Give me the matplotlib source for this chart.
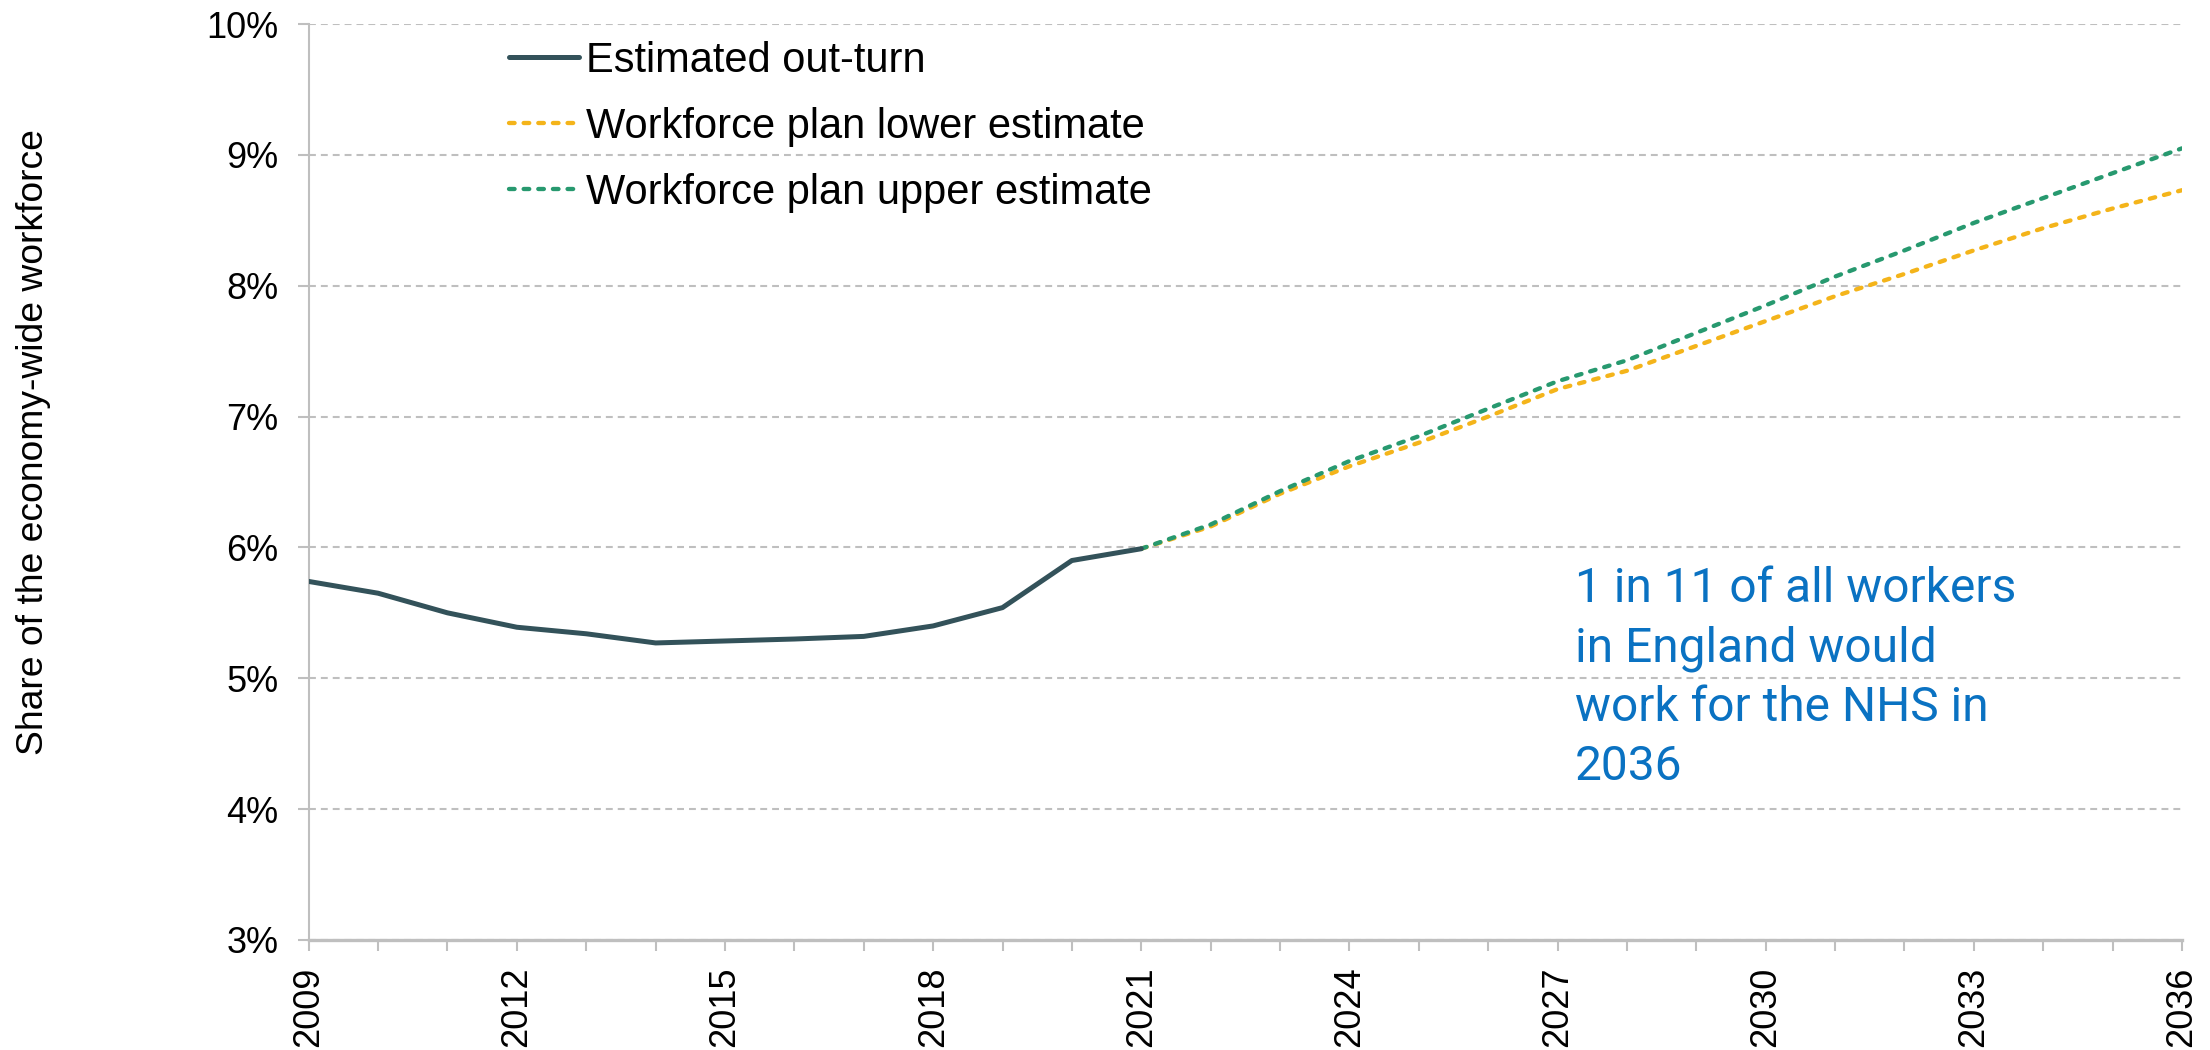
import matplotlib.pyplot as plt
import numpy as np

plt.rcParams.update({'font.family': ['Liberation Sans', 'DejaVu Sans']})

# NHS share of the economy-wide workforce (%)
years_out = np.arange(2009, 2022)
outturn = [5.74, 5.65, 5.50, 5.39, 5.34, 5.27, 5.285, 5.30, 5.32, 5.40, 5.54, 5.90, 5.99]

years_plan = np.arange(2021, 2037)
plan_lower = [5.99, 6.16, 6.41, 6.62, 6.80, 7.00, 7.21, 7.35, 7.54, 7.73, 7.92, 8.09, 8.27, 8.44, 8.59, 8.73]
plan_upper = [5.99, 6.175, 6.43, 6.66, 6.85, 7.06, 7.27, 7.43, 7.64, 7.85, 8.07, 8.27, 8.48, 8.67, 8.86, 9.05]

grey = '#BFBFBF'
fig = plt.figure(figsize=(22.1, 10.5), dpi=100)
ax = fig.add_axes([0.1397, 0.1048, 0.8476, 0.8723])

dash = (0, (1.3, 2.1))
ax.plot(years_plan, plan_lower, color='#F4B41A', lw=3.1, linestyle=dash,
        dash_capstyle='round', label='Workforce plan lower estimate', zorder=3)
ax.plot(years_plan, plan_upper, color='#27996F', lw=3.1, linestyle=dash,
        dash_capstyle='round', label='Workforce plan upper estimate', zorder=4)
ax.plot(years_out, outturn, color='#33525A', lw=3.6, label='Estimated out-turn',
        solid_capstyle='round', zorder=5)

ax.set_xlim(2009, 2036)
ax.set_ylim(3, 10)
ax.set_yticks(range(3, 11))
ax.set_yticklabels([f'{v}%' for v in range(3, 11)])
ax.set_xticks(range(2009, 2037, 3))
ax.set_xticks(range(2009, 2037), minor=True)
ax.tick_params(axis='x', which='both', direction='out', length=8, width=1.5,
               color=grey, labelsize=26, labelrotation=90, pad=11)
ax.tick_params(axis='y', direction='out', length=8, width=1.5, color=grey,
               labelsize=26, pad=14)

ax.grid(axis='y', color=grey, lw=1.5, linestyle=(0, (3.3, 2.4)))
ax.set_axisbelow(True)
for side in ['top', 'right']:
    ax.spines[side].set_visible(False)
ax.spines['left'].set_color(grey)
ax.spines['left'].set_linewidth(1.5)
ax.spines['bottom'].set_color(grey)
ax.spines['bottom'].set_linewidth(2.4)

fig.text(34 / 2210, 1 - 442 / 1050, 'Share of the economy-wide workforce',
         rotation=90, ha='center', va='center', fontsize=26.8)

handles, labels = ax.get_legend_handles_labels()
order = [2, 0, 1]
ax.legend([handles[i] for i in order], [labels[i] for i in order],
          loc='upper left', bbox_to_anchor=(0.107, 0.982), frameon=False,
          fontsize=30, handlelength=1.68, handletextpad=0.17, labelspacing=0.63,
          borderpad=0, borderaxespad=0)

ax.text(2027.25, 5.855, '1 in 11 of all workers\nin England would\nwork for the NHS in\n2036',
        color='#0A72C2', fontsize=34.5, family=['Roboto', 'DejaVu Sans'],
        ha='left', va='top', linespacing=1.36)

plt.savefig('out.png')
